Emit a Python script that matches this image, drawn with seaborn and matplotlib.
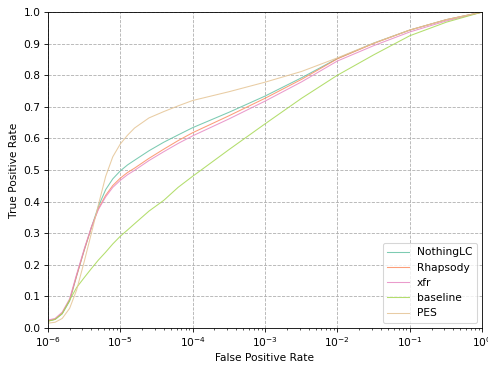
import numpy as np
import pandas as pd
import matplotlib
matplotlib.use("Agg")
import matplotlib.pyplot as plt
from matplotlib.ticker import LogLocator, NullFormatter
import seaborn as sns

# ROC curves
fpr = [1e-6, 1.26e-6, 1.58e-6, 2e-6, 2.5e-6, 3.2e-6, 4e-6, 5e-6, 6.3e-6,
       7.9e-6, 1e-5, 1.26e-5, 1.58e-5, 2.5e-5, 4e-5, 6.3e-5, 1e-4, 3.2e-4,
       1e-3, 3.2e-3, 1e-2, 3.2e-2, 0.1, 0.32, 1.0]

tpr_nothinglc = [0.022, 0.027, 0.045, 0.085, 0.165, 0.248, 0.318, 0.385, 0.438,
                 0.472, 0.497, 0.516, 0.531, 0.561, 0.588, 0.611, 0.634, 0.683,
                 0.734, 0.792, 0.853, 0.902, 0.943, 0.976, 1.0]
tpr_rhapsody = [0.022, 0.028, 0.047, 0.088, 0.165, 0.248, 0.318, 0.378, 0.420,
                0.451, 0.474, 0.492, 0.506, 0.537, 0.566, 0.593, 0.618, 0.672,
                0.727, 0.787, 0.852, 0.901, 0.943, 0.976, 1.0]
tpr_xfr = [0.025, 0.030, 0.050, 0.092, 0.170, 0.252, 0.320, 0.375, 0.415,
           0.445, 0.467, 0.485, 0.499, 0.530, 0.558, 0.584, 0.608, 0.662,
           0.718, 0.779, 0.845, 0.894, 0.937, 0.972, 1.0]
tpr_baseline = [0.021, 0.027, 0.045, 0.088, 0.128, 0.160, 0.188, 0.215, 0.240,
                0.266, 0.290, 0.310, 0.330, 0.370, 0.404, 0.445, 0.480, 0.565,
                0.646, 0.727, 0.800, 0.865, 0.925, 0.968, 1.0]
tpr_pes = [0.015, 0.018, 0.030, 0.062, 0.120, 0.212, 0.300, 0.390, 0.480,
           0.542, 0.582, 0.610, 0.633, 0.665, 0.685, 0.703, 0.720, 0.748,
           0.778, 0.812, 0.855, 0.902, 0.943, 0.976, 1.0]

models = ["NothingLC", "Rhapsody", "xfr", "baseline", "PES"]
tprs = [tpr_nothinglc, tpr_rhapsody, tpr_xfr, tpr_baseline, tpr_pes]

df = pd.concat(
    [pd.DataFrame({"fpr": fpr, "tpr": t, "model": m}) for m, t in zip(models, tprs)],
    ignore_index=True,
)

set2 = sns.color_palette("Set2", 8)
palette = dict(zip(models, [set2[0], set2[1], set2[3], set2[4], set2[6]]))

fig = plt.figure(figsize=(6.4, 4.8), dpi=76.25)
ax = fig.add_axes([0.098, 0.104, 0.890, 0.863])

sns.lineplot(
    data=df, x="fpr", y="tpr", hue="model", hue_order=models, palette=palette,
    estimator=None, sort=False, linewidth=1.0, alpha=0.85, ax=ax,
)

ax.set_xscale("log")
ax.set_xlim(1e-6, 1)
ax.set_ylim(0, 1)
ax.set_yticks(np.arange(0, 1.01, 0.1))
ax.xaxis.set_minor_locator(LogLocator(base=10, subs=np.arange(2, 10), numticks=20))
ax.xaxis.set_minor_formatter(NullFormatter())
ax.grid(True, which="major", linestyle="--", color="#b0b0b0", linewidth=0.8)
ax.set_xlabel("False Positive Rate")
ax.set_ylabel("True Positive Rate")
sns.move_legend(ax, "lower right", title=None)

fig.savefig("out.png", dpi=76.25)
